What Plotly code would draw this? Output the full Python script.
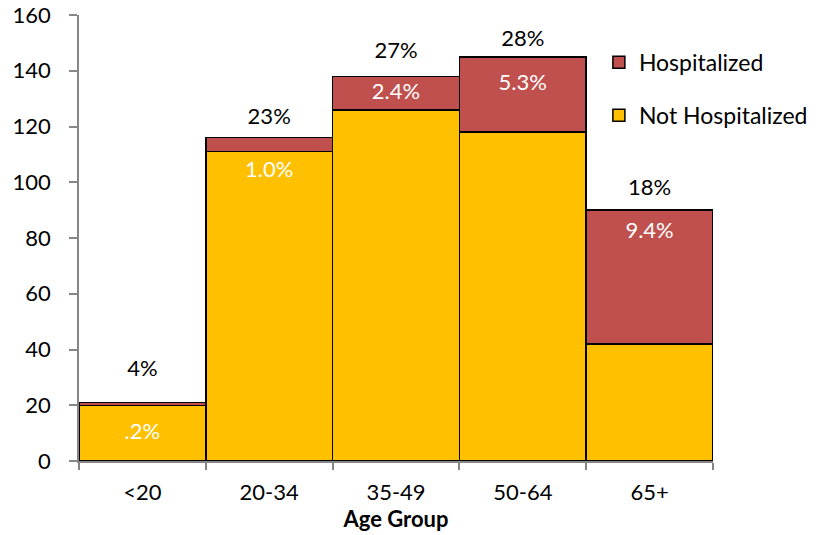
import plotly.graph_objects as go

categories = ["<20", "20-34", "35-49", "50-64", "65+"]
not_hosp = [20, 111, 126, 118, 42]
hosp = [1, 5, 12, 27, 48]
top_labels = ["4%", "23%", "27%", "28%", "18%"]
top_label_y = [32.6, 122.7, 146.7, 150.7, 97.5]
inner_labels = [".2%", "1.0%", "2.4%", "5.3%", "9.4%"]
inner_label_y = [10, 104, 132, 135, 82]
y_ticks = [0, 20, 40, 60, 80, 100, 120, 140, 160]

FONT = "Lato"
FS = 22
idx = list(range(len(categories)))

fig = go.Figure()
fig.add_trace(go.Bar(
    x=idx, y=not_hosp, name="Not Hospitalized", legendgroup="a", legendrank=2,
    marker=dict(color="#FFC000", line=dict(color="black", width=1.5)),
    width=1.0,
))
fig.add_trace(go.Bar(
    x=idx, y=hosp, name="Hospitalized", legendgroup="b", legendrank=1,
    marker=dict(color="#C0504D", line=dict(color="black", width=1.5)),
    width=1.0,
))
fig.add_trace(go.Scatter(
    x=idx, y=top_label_y, text=top_labels, mode="text",
    textfont=dict(family=FONT, size=FS, color="black"), showlegend=False,
    hoverinfo="skip", cliponaxis=False,
))
fig.add_trace(go.Scatter(
    x=idx, y=inner_label_y, text=inner_labels, mode="text",
    textfont=dict(family=FONT, size=FS, color="white"), showlegend=False,
    hoverinfo="skip", cliponaxis=False,
))

fig.update_layout(
    barmode="stack",
    width=830, height=535,
    margin=dict(l=79, r=117, t=15, b=74, autoexpand=False),
    plot_bgcolor="white", paper_bgcolor="white",
    font=dict(family=FONT, size=FS, color="black"),
    legend=dict(
        x=0.82, y=0.942, xanchor="left", yanchor="top",
        traceorder="grouped", tracegroupgap=20,
        font=dict(family=FONT, size=FS + 1), bgcolor="rgba(0,0,0,0)",
    ),
    xaxis=dict(
        range=[-0.5, 4.5], tickvals=idx, ticktext=categories,
        ticks="", showgrid=False, zeroline=False, automargin=False,
        showline=True, linecolor="#868686", linewidth=1.5,
        minor=dict(tick0=-0.5, dtick=1, ticks="outside", ticklen=7,
                   tickcolor="#868686", tickwidth=1.5, showgrid=False),
        title=dict(text="<b>Age Group</b>", font=dict(family=FONT, size=FS), standoff=7),
        ticklabelstandoff=11,
    ),
    yaxis=dict(
        range=[0, 160], tickvals=y_ticks, showgrid=False, zeroline=False,
        showline=True, linecolor="#868686", linewidth=1.5, automargin=False,
        ticks="outside", ticklen=8, tickcolor="#868686", tickwidth=1.5,
        ticklabelstandoff=14, ticklabeloverflow="allow",
    ),
)

fig.write_html(
    "out.html",
    config={"displayModeBar": False},
    post_script="document.body.style.margin='0';",
)
